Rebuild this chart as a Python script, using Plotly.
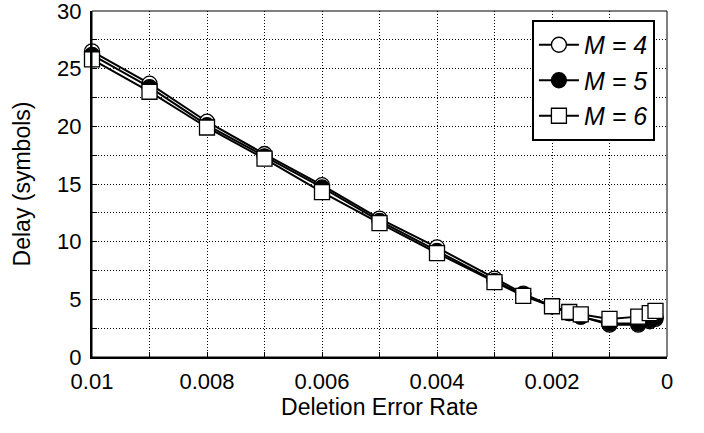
import plotly.graph_objects as go

error_rate = [0.01, 0.009, 0.008, 0.007, 0.006, 0.005, 0.004, 0.003, 0.0025,
              0.002, 0.0017, 0.0015, 0.001, 0.0005, 0.0003, 0.0002]
delay_m4 = [26.5, 23.7, 20.4, 17.6, 14.9, 12.0, 9.5, 6.8, 5.5, 4.4, 3.8, 3.5, 2.8, 2.8, 3.1, 3.3]
delay_m5 = [26.2, 23.4, 20.1, 17.4, 14.7, 11.8, 9.2, 6.6, 5.4, 4.4, 3.8, 3.5, 2.9, 2.9, 3.2, 3.4]
delay_m6 = [25.8, 23.0, 19.9, 17.2, 14.3, 11.6, 9.0, 6.5, 5.3, 4.4, 3.9, 3.7, 3.3, 3.5, 3.8, 4.0]
series_names = ["M = 4", "M = 5", "M = 6"]
x_tickvals = [0.01, 0.008, 0.006, 0.004, 0.002, 0.0]
x_ticktext = ["0.01", "0.008", "0.006", "0.004", "0.002", "0"]

FONT = "Liberation Sans, Arial, Helvetica, sans-serif"

fig = go.Figure()
styles = [
    (delay_m4, "circle", "white"),
    (delay_m5, "circle", "black"),
    (delay_m6, "square", "white"),
]
for (ys, sym, fill), name in zip(styles, series_names):
    fig.add_trace(go.Scatter(
        x=error_rate, y=ys, name=name, mode="lines+markers",
        line=dict(color="black", width=2),
        marker=dict(symbol=sym, size=15, color=fill,
                    line=dict(color="black", width=1.3)),
        cliponaxis=False,
    ))

DOT = "1px,2px"
fig.update_xaxes(
    range=[0.01, 0], tickmode="array", tickvals=x_tickvals, ticktext=x_ticktext,
    automargin=False, ticklabeloverflow="allow", ticklabelstandoff=4,
    showline=True, linecolor="black", linewidth=2,
    ticks="inside", ticklen=5, tickwidth=1, tickcolor="black",
    showgrid=True, gridcolor="black", griddash=DOT, gridwidth=1, zeroline=False,
    minor=dict(tickmode="array",
               tickvals=[0.009, 0.007, 0.005, 0.003, 0.001],
               ticks="inside", ticklen=5, tickcolor="black",
               showgrid=True, gridcolor="black", griddash=DOT, gridwidth=1),
    tickfont=dict(family=FONT, size=22, color="black"),
    title=dict(text="Deletion Error Rate", font=dict(family=FONT, size=23, color="black"),
               standoff=5),
)
fig.update_yaxes(
    range=[0, 30], dtick=5,
    automargin=False, ticklabeloverflow="allow", ticklabelstandoff=4,
    showline=True, linecolor="black", linewidth=2,
    ticks="inside", ticklen=5, tickwidth=1, tickcolor="black",
    showgrid=True, gridcolor="black", griddash=DOT, gridwidth=1, zeroline=False,
    minor=dict(dtick=2.5, ticks="inside", ticklen=5, tickcolor="black",
               showgrid=True, gridcolor="black", griddash=DOT, gridwidth=1),
    tickfont=dict(family=FONT, size=22, color="black"),
    title=dict(text="Delay (symbols)", font=dict(family=FONT, size=23, color="black"),
               standoff=20),
)
fig.add_shape(type="rect", xref="paper", yref="paper", x0=0, x1=1, y0=0, y1=1,
              line=dict(color="black", width=1), layer="above")

fig.update_layout(
    width=704, height=433,
    margin=dict(l=92, r=37, t=11, b=76),
    paper_bgcolor="white", plot_bgcolor="white",
    font=dict(family=FONT, color="black"),
    legend=dict(
        x=0.979, y=0.974, xanchor="right", yanchor="top",
        bgcolor="white", bordercolor="black", borderwidth=2,
        font=dict(family=FONT, size=25, color="black", style="italic"),
        itemwidth=40, tracegroupgap=0,
    ),
)
fig.write_html("out.html", config={"displayModeBar": False},
               post_script="document.body.style.margin='0px';document.body.style.overflow='hidden';")
